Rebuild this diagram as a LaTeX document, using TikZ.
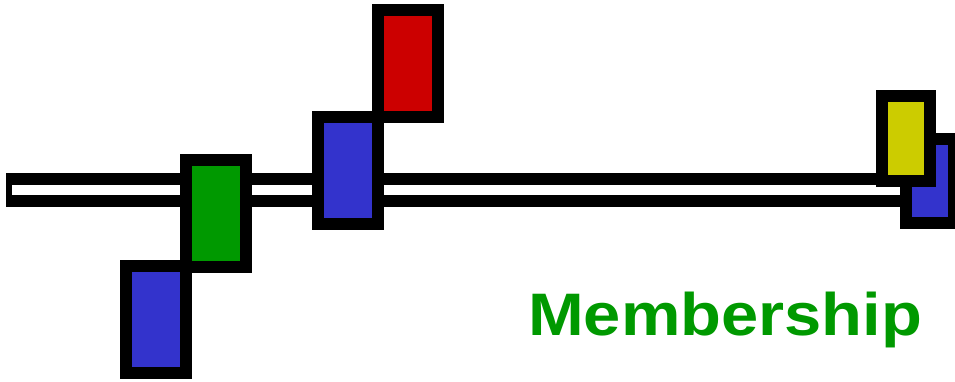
\documentclass[tikz,border=0pt]{standalone}
\usepackage{fontspec}
\setmainfont{Liberation Sans}
\usepackage{tikz}
\definecolor{memblue}{RGB}{51,51,204}
\definecolor{memgreen}{RGB}{0,153,0}
\definecolor{memred}{RGB}{204,0,0}
\definecolor{memyellow}{RGB}{204,204,0}

\begin{document}
\begin{tikzpicture}[x=1pt,y=-1pt,
                    block/.style={draw=black,line width=12pt}]
                        \useasboundingbox (0,0) rectangle (955,381);
                        % the bar
                        \fill [black] (6,173.3) rectangle (906,206.7);
                        \fill [white] (12,185) rectangle (900,195);
                        % boxes along the bar
                        \foreach \xa/\ya/\xb/\yb/\c in {186/160/246/266.7/memgreen,
                                                         126/266.3/186/373.3/memblue,
                                                         318/117/378/224/memblue,
                                                         378/10/438/117/memred,
                                                         906/139/954/223/memblue,
                                                         882/96/930/180.7/memyellow}
                        {
                            \draw [block,fill=\c] (\xa,\ya) rectangle (\xb,\yb);
                        }
                        \node [anchor=base west,inner sep=0pt,text=memgreen,xscale=1.115,transform shape,
                               font=\fontsize{60}{60}\selectfont\bfseries] (title) at (528,335) {Membership};
                    \end{tikzpicture}
\end{document}
